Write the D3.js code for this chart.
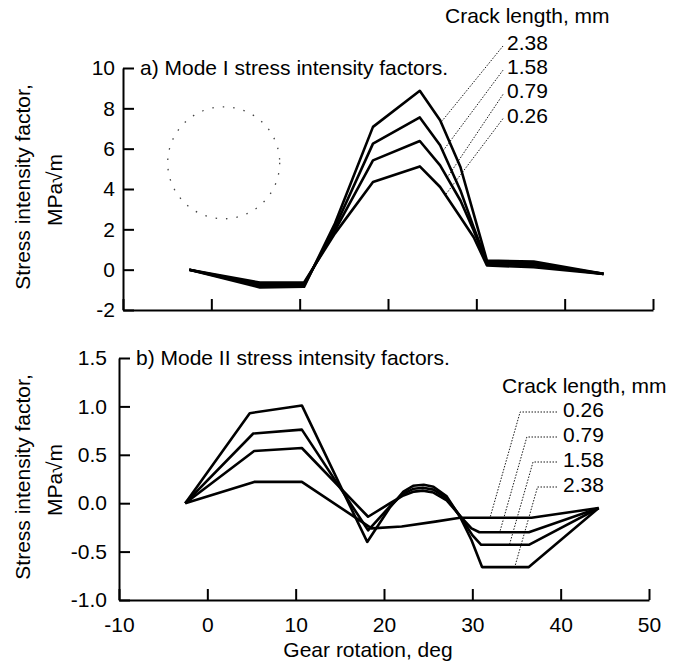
<!DOCTYPE html>
<html>
<head>
<meta charset="utf-8">
<title>Stress intensity factors</title>
<script src="https://d3js.org/d3.v7.min.js"></script>
<style>
    body { margin: 0; background: #fff; }
    svg text { font-family: "Liberation Sans", Arial, sans-serif; font-size: 21px; fill: #000; }
    .curve { fill: none; stroke: #000; stroke-width: 2.6; stroke-linejoin: round; }
    .axis path, .axis line { stroke: #000; stroke-width: 2; }
    .leader { fill: none; stroke: #000; stroke-width: 0.9; stroke-dasharray: 1.5 1.5; }
</style>
</head>
<body>
<script>
// ---- data ----
var xTicks = [-10, 0, 10, 20, 30, 40, 50];
var topYTicks = [-2, 0, 2, 4, 6, 8, 10];
var botYTicks = [-1.0, -0.5, 0.0, 0.5, 1.0, 1.5];
var cracks = ["2.38", "1.58", "0.79", "0.26"];

// a) Mode I, gear rotation (deg)
var topX    = [-2.5, 5.5, 10.5, 14, 18.3, 23.6, 25.9, 28.2, 29.7, 31.2, 36.5, 44.4];
var topK238 = [0, -0.88, -0.85, 2.3, 7.08, 8.87, 7.41, 5.09, 2.77, 0.45, 0.40, -0.21];
var topK158 = [0, -0.80, -0.78, 2.1, 6.25, 7.55, 6.17, 3.93, 2.10, 0.37, 0.31, -0.21];
var topK079 = [0, -0.72, -0.70, 1.95, 5.42, 6.38, 5.17, 3.43, 1.94, 0.29, 0.22, -0.21];
var topK026 = [0, -0.64, -0.63, 1.8, 4.35, 5.12, 4.10, 2.60, 1.61, 0.21, 0.12, -0.21];

// b) Mode II, [gear rotation, K]
var botK238 = [[-2.5, 0], [4.8, 0.93], [10.7, 1.01], [18.1, -0.40], [20.7, -0.04], [22.2, 0.12], [23.3, 0.18],
               [24.5, 0.19], [25.6, 0.17], [27.1, 0.07], [28.6, -0.14], [29.9, -0.38], [31.1, -0.66], [36.4, -0.66], [44.3, -0.05]];
var botK158 = [[-2.5, 0], [5.2, 0.72], [10.7, 0.76], [18.2, -0.28], [20.7, -0.03], [22.2, 0.10], [23.4, 0.15],
               [24.4, 0.16], [25.6, 0.14], [27.1, 0.05], [28.6, -0.13], [30.0, -0.33], [31.0, -0.43], [36.4, -0.43], [44.3, -0.05]];
var botK079 = [[-2.5, 0], [5.3, 0.54], [10.7, 0.57], [18.2, -0.14], [20.7, 0.0], [22.2, 0.08], [23.4, 0.12],
               [24.4, 0.13], [25.6, 0.11], [27.1, 0.03], [28.6, -0.13], [29.9, -0.26], [30.8, -0.30], [36.4, -0.30], [44.3, -0.05]];
var botK026 = [[-2.5, 0], [5.3, 0.22], [10.7, 0.22], [18.6, -0.26], [22.0, -0.24], [25.8, -0.19], [28.6, -0.15],
               [36.7, -0.15], [44.3, -0.05]];

// where the label leaders touch each curve (gear rotation)
var topLeaderAt = [26.0, 26.2, 26.7, 26.5];
var botLeaderAt = [34.8, 34.2, 33.1, 32.0];

// ---- helpers ----
function pairs(xs, ys) { return xs.map(function (v, i) { return [v, ys[i]]; }); }
function valueAt(pts, xv) {
    for (var i = 1; i < pts.length; i++) {
        if (xv <= pts[i][0]) {
            var t = (xv - pts[i - 1][0]) / (pts[i][0] - pts[i - 1][0]);
            return pts[i - 1][1] + t * (pts[i][1] - pts[i - 1][1]);
        }
    }
    return pts[pts.length - 1][1];
}
function hyphen(f) { return function (d) { return f(d).replace("\u2212", "-"); }; }

var svg = d3.select("body").append("svg")
    .attr("width", 680)
    .attr("height", 672);

function panel(cfg) {
    var x = d3.scaleLinear().domain([-10, 50]).range(cfg.xRange);
    var y = d3.scaleLinear().domain(cfg.yDomain).range(cfg.yRange);
    var g = svg.append("g");

    g.append("g")
        .attr("class", "axis")
        .attr("transform", "translate(0," + cfg.yRange[0] + ")")
        .call(d3.axisBottom(x).tickValues(xTicks).tickSizeInner(-11).tickSizeOuter(0)
            .tickPadding(17).tickFormat(cfg.xLabels ? hyphen(d3.format("d")) : ""));

    g.append("g")
        .attr("class", "axis")
        .attr("transform", "translate(" + cfg.xRange[0] + ",0)")
        .call(d3.axisLeft(y).tickValues(cfg.yTicks).tickSizeInner(-11).tickSizeOuter(0)
            .tickPadding(cfg.yPad).tickFormat(hyphen(d3.format(cfg.yFmt))));

    var line = d3.line().x(function (d) { return x(d[0]); }).y(function (d) { return y(d[1]); });

    g.selectAll(".curve")
        .data(cfg.series).enter().append("path")
        .attr("class", "curve")
        .attr("d", line);

    g.append("text")
        .attr("x", cfg.xRange[0] + 17)
        .attr("y", y(cfg.yDomain[1]))
        .attr("dy", "0.35em")
        .text(cfg.title);

    var cy = (cfg.yRange[0] + cfg.yRange[1]) / 2;
    g.append("text")
        .attr("transform", "translate(30," + (cy - 2) + ") rotate(-90)")
        .attr("text-anchor", "middle")
        .text("Stress intensity factor,");
    g.append("text")
        .attr("transform", "translate(62," + (cy + 1) + ") rotate(-90)")
        .attr("text-anchor", "middle")
        .text("MPa\u221Am");

    return { x: x, y: y, g: g };
}

// ---- a) Mode I ----
var topSeries = [pairs(topX, topK238), pairs(topX, topK158), pairs(topX, topK079), pairs(topX, topK026)];
var a = panel({
    xRange: [123, 653], yDomain: [-2, 10], yRange: [310, 68],
    yTicks: topYTicks, yFmt: "d", yPad: 8, xLabels: false,
    series: topSeries, title: "a) Mode I stress intensity factors."
});

// faint dotted gear outline left in the scan
a.g.append("circle")
    .attr("cx", a.x(1.4)).attr("cy", a.y(5.3)).attr("r", 56)
    .attr("fill", "none").attr("stroke", "#444").attr("stroke-width", 1.3)
    .attr("stroke-dasharray", "1.5 9");

a.g.append("text").attr("x", 445).attr("y", 23).text("Crack length, mm");
cracks.forEach(function (c, i) {
    var base = 50 + i * 24.2;
    a.g.append("text").attr("x", 507).attr("y", base).text(c);
    var px = topLeaderAt[i];
    a.g.append("line").attr("class", "leader")
        .attr("x1", 503).attr("y1", base - 4)
        .attr("x2", a.x(px)).attr("y2", a.y(valueAt(topSeries[i], px)));
});

// ---- b) Mode II ----
var botSeries = [botK238, botK158, botK079, botK026];
var b = panel({
    xRange: [119, 649], yDomain: [-1, 1.5], yRange: [600, 358],
    yTicks: botYTicks, yFmt: ".1f", yPad: 12, xLabels: true,
    series: botSeries, title: "b) Mode II stress intensity factors."
});

b.g.append("text").attr("x", 502).attr("y", 393).text("Crack length, mm");
var botOrder = [3, 2, 1, 0]; // 0.26 on top of the list
botOrder.forEach(function (si, row) {
    var base = 417 + row * 25;
    b.g.append("text").attr("x", 563).attr("y", base).text(cracks[si]);
    var ex = b.x(botLeaderAt[si]), ey = b.y(valueAt(botSeries[si], botLeaderAt[si]));
    var hy = base - 5, hx = ex + 0.285 * (ey - hy);
    b.g.append("path").attr("class", "leader")
        .attr("d", "M557," + hy + "H" + hx + "L" + ex + "," + ey);
});

svg.append("text")
    .attr("x", 368).attr("y", 657)
    .attr("text-anchor", "middle")
    .text("Gear rotation, deg");
</script>
</body>
</html>
